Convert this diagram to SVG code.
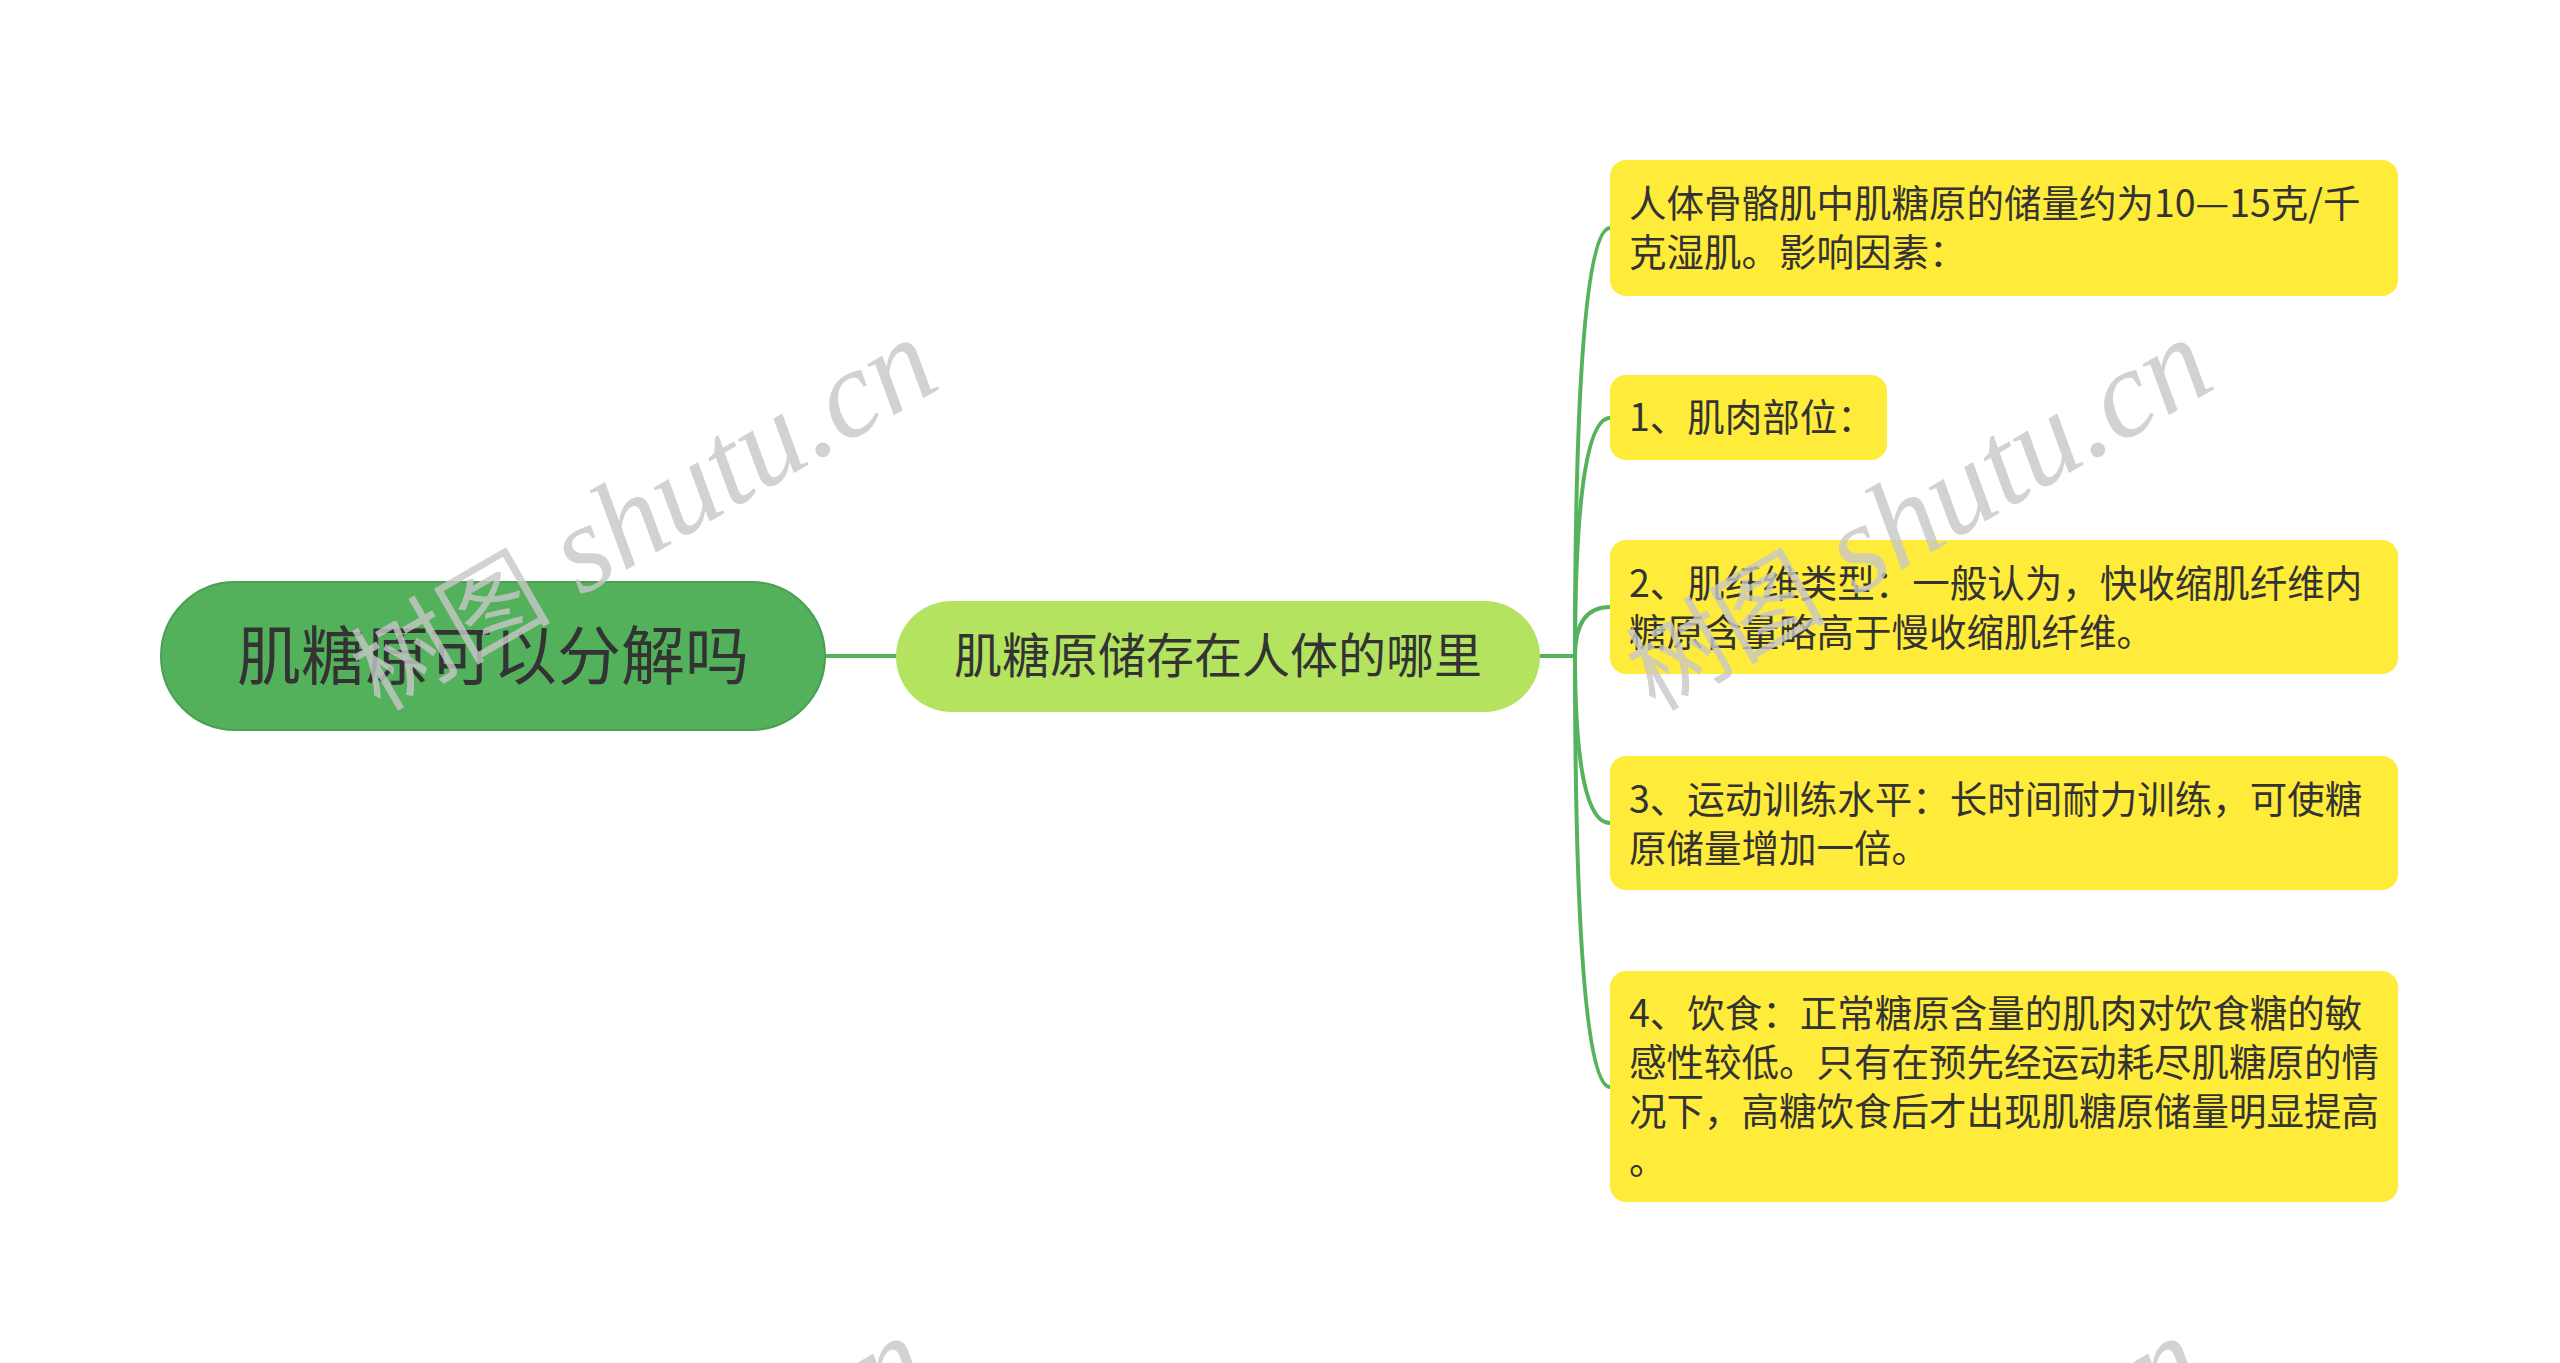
<svg xmlns="http://www.w3.org/2000/svg" width="2560" height="1363" viewBox="0 0 2560 1363">
<style>
.wm{fill:#c8c8c8;opacity:0.8}
.wmcjk{font-family:"Noto Sans CJK SC",sans-serif;font-size:100px}
.wmlat{font-family:"Liberation Serif",serif;font-style:italic;font-size:125px}
.conn{fill:none;stroke:#55b25d;stroke-width:4;stroke-linecap:round}
.txt{font-family:"Noto Sans CJK SC","Noto Sans",sans-serif;fill:#333333}
.root{fill:#53b15b;stroke:#4aa052;stroke-width:2}
.mid{fill:#b3e35f}
.leaf{fill:#ffeb3a}
.lt{font-size:37.5px}
</style>
<rect width="2560" height="1363" fill="#ffffff"/>
<g id="connectors">
<path class="conn" d="M826,656 H896"/>
<path class="conn" d="M1540,656 H1575"/>
<path class="conn" d="M1575,656 C1575,442 1582,228 1610,228"/>
<path class="conn" d="M1575,656 C1575,537 1582,418 1610,418"/>
<path class="conn" d="M1575,656 C1575,631 1582,607 1610,607"/>
<path class="conn" d="M1575,656 C1575,740 1582,823 1610,823"/>
<path class="conn" d="M1575,656 C1575,871 1582,1087 1610,1087"/>
</g>
<g id="root">
<rect class="root" x="161" y="582" width="664" height="148" rx="74"/>
<text class="txt" x="493" y="679" font-size="64" text-anchor="middle">肌糖原可以分解吗</text>
</g>
<g id="middle">
<rect class="mid" x="896" y="601" width="644" height="111" rx="55.5"/>
<text class="txt" x="1218" y="673" font-size="48" text-anchor="middle">肌糖原储存在人体的哪里</text>
</g>
<g id="leaf1">
<rect class="leaf" x="1610" y="160" width="788" height="136" rx="16"/>
<text class="txt lt" x="1629" y="217">人体骨骼肌中肌糖原的储量约为10—15克/千</text>
<text class="txt lt" x="1629" y="266">克湿肌。影响因素：</text>
</g>
<g id="leaf2">
<rect class="leaf" x="1610" y="375" width="277" height="85" rx="16"/>
<text class="txt lt" x="1629" y="431">1、肌肉部位：</text>
</g>
<g id="leaf3">
<rect class="leaf" x="1610" y="540" width="788" height="134" rx="16"/>
<text class="txt lt" x="1629" y="597">2、肌纤维类型：一般认为，快收缩肌纤维内</text>
<text class="txt lt" x="1629" y="646">糖原含量略高于慢收缩肌纤维。</text>
</g>
<g id="leaf4">
<rect class="leaf" x="1610" y="756" width="788" height="134" rx="16"/>
<text class="txt lt" x="1629" y="813">3、运动训练水平：长时间耐力训练，可使糖</text>
<text class="txt lt" x="1629" y="862">原储量增加一倍。</text>
</g>
<g id="leaf5">
<rect class="leaf" x="1610" y="971" width="788" height="231" rx="16"/>
<text class="txt lt" x="1629" y="1027">4、饮食：正常糖原含量的肌肉对饮食糖的敏</text>
<text class="txt lt" x="1629" y="1076">感性较低。只有在预先经运动耗尽肌糖原的情</text>
<text class="txt lt" x="1629" y="1125">况下，高糖饮食后才出现肌糖原储量明显提高</text>
<text class="txt lt" x="1629" y="1174">。</text>
</g>
<g id="watermarks">
<text class="wm" transform="translate(380,712) rotate(-30)"><tspan class="wmcjk">树图</tspan><tspan class="wmlat"> shutu.cn</tspan></text>
<text class="wm" transform="translate(1655,712) rotate(-30)"><tspan class="wmcjk">树图</tspan><tspan class="wmlat"> shutu.cn</tspan></text>
<text class="wm" transform="translate(371,1710) rotate(-30)"><tspan class="wmcjk">树图</tspan><tspan class="wmlat"> shutu.cn</tspan></text>
<text class="wm" transform="translate(1646,1710) rotate(-30)"><tspan class="wmcjk">树图</tspan><tspan class="wmlat"> shutu.cn</tspan></text>
</g>
</svg>
